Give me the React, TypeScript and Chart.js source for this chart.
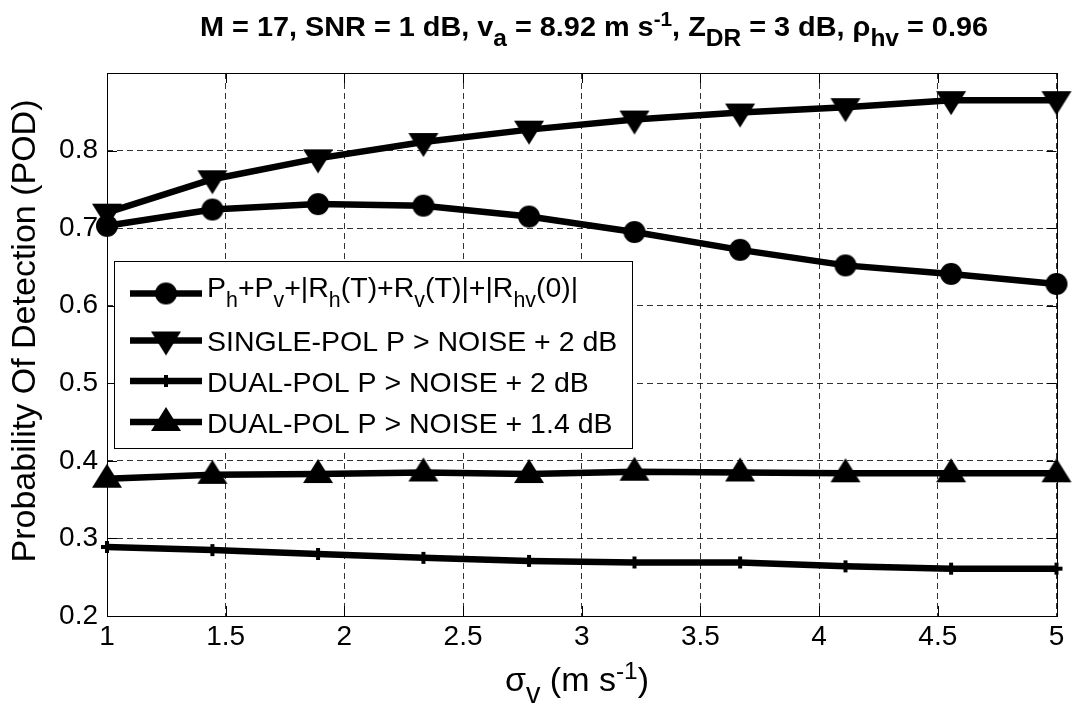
import React, { useEffect, useRef } from 'react';
import { Chart, registerables } from 'chart.js';

Chart.register(...registerables);

// ---------- data ----------
const sigmaV = [1, 1.444, 1.889, 2.333, 2.778, 3.222, 3.667, 4.111, 4.556, 5];
const podCombined = [0.703, 0.724, 0.731, 0.729, 0.715, 0.695, 0.672, 0.652, 0.641, 0.628];
const podSinglePol2dB = [0.72, 0.763, 0.79, 0.811, 0.827, 0.84, 0.849, 0.856, 0.865, 0.865];
const podDualPol2dB = [0.289, 0.285, 0.28, 0.275, 0.271, 0.269, 0.269, 0.264, 0.261, 0.261];
const podDualPol14dB = [0.377, 0.382, 0.383, 0.385, 0.383, 0.386, 0.385, 0.384, 0.384, 0.384];

const xTicks = [1, 1.5, 2, 2.5, 3, 3.5, 4, 4.5, 5];
const xTickLabels = ['1', '1.5', '2', '2.5', '3', '3.5', '4', '4.5', '5'];
const yTicks = [0.2, 0.3, 0.4, 0.5, 0.6, 0.7, 0.8];
const yTickLabels = ['0.2', '0.3', '0.4', '0.5', '0.6', '0.7', '0.8'];

type Seg = { t: string; k?: 'sub' | 'sup' };

const titleSegs: Seg[] = [
  { t: 'M = 17, SNR = 1 dB, v' }, { t: 'a', k: 'sub' }, { t: ' = 8.92 m s' }, { t: '-1', k: 'sup' },
  { t: ', Z' }, { t: 'DR', k: 'sub' }, { t: ' = 3 dB, ρ' }, { t: 'hv', k: 'sub' }, { t: ' = 0.96' },
];
const xLabelSegs: Seg[] = [{ t: 'σ' }, { t: 'v', k: 'sub' }, { t: ' (m s' }, { t: '-1', k: 'sup' }, { t: ')' }];
const yLabel = 'Probability Of Detection (POD)';

const label1: Seg[] = [
  { t: 'P' }, { t: 'h', k: 'sub' }, { t: '+P' }, { t: 'v', k: 'sub' }, { t: '+|R' }, { t: 'h', k: 'sub' },
  { t: '(T)+R' }, { t: 'v', k: 'sub' }, { t: '(T)|+|R' }, { t: 'hv', k: 'sub' }, { t: '(0)|' },
];
const label2: Seg[] = [{ t: 'SINGLE-POL P > NOISE + 2 dB' }];
const label3: Seg[] = [{ t: 'DUAL-POL P > NOISE + 2 dB' }];
const label4: Seg[] = [{ t: 'DUAL-POL P > NOISE + 1.4 dB' }];

const FONT = '"Liberation Sans", Arial, Helvetica, sans-serif';

function segFont(size: number, bold: boolean, k?: string, subScale = 0.85) {
  const s = k === 'sub' ? size * subScale : k === 'sup' ? size * 0.72 : size;
  return `${bold ? 'bold ' : ''}${s}px ${FONT}`;
}
function richWidth(ctx: CanvasRenderingContext2D, segs: Seg[], size: number, bold: boolean, subScale = 0.85) {
  let w = 0;
  for (const s of segs) {
    ctx.font = segFont(size, bold, s.k, subScale);
    w += ctx.measureText(s.t).width;
  }
  return w;
}
function drawRich(ctx: CanvasRenderingContext2D, segs: Seg[], x: number, y: number, size: number, bold: boolean, subScale = 0.85) {
  let cx = x;
  ctx.textAlign = 'left';
  ctx.textBaseline = 'alphabetic';
  for (const s of segs) {
    ctx.font = segFont(size, bold, s.k, subScale);
    const dy = s.k === 'sub' ? size * 0.35 : s.k === 'sup' ? -size * 0.36 : 0;
    ctx.fillText(s.t, cx, y + dy);
    cx += ctx.measureText(s.t).width;
  }
}

function makeMarker(kind: string): HTMLCanvasElement {
  const c = document.createElement('canvas');
  const g = c.getContext('2d')!;
  g.fillStyle = '#000';
  g.strokeStyle = '#000';
  if (kind === 'circle') {
    c.width = 24; c.height = 24;
    g.fillStyle = '#000';
    g.beginPath(); g.arc(12, 12, 11, 0, Math.PI * 2); g.fill();
  } else if (kind === 'down') {
    c.width = 32; c.height = 32;
    g.fillStyle = '#000';
    g.beginPath(); g.moveTo(1, 7); g.lineTo(31, 7); g.lineTo(16, 31); g.closePath(); g.fill();
  } else if (kind === 'up') {
    c.width = 32; c.height = 32;
    g.fillStyle = '#000';
    g.beginPath(); g.moveTo(16, 1); g.lineTo(31, 25); g.lineTo(1, 25); g.closePath(); g.fill();
  } else {
    c.width = 16; c.height = 16;
    g.strokeStyle = '#000';
    g.lineWidth = 4;
    g.beginPath(); g.moveTo(2, 8); g.lineTo(14, 8); g.moveTo(8, 2); g.lineTo(8, 14); g.stroke();
  }
  return c;
}

export default function App() {
  const ref = useRef<HTMLCanvasElement | null>(null);

  useEffect(() => {
    const canvas = ref.current;
    if (!canvas) return;
    const markers = [makeMarker('circle'), makeMarker('down'), makeMarker('plus'), makeMarker('up')];
    const seriesVals = [podCombined, podSinglePol2dB, podDualPol2dB, podDualPol14dB];
    const labels = [label1, label2, label3, label4];

    const datasets = seriesVals.map((vals, i) => ({
      label: labels[i].map((s) => s.t).join(''),
      data: sigmaV.map((x, j) => ({ x, y: vals[j] })),
      borderColor: '#000',
      backgroundColor: '#000',
      borderWidth: 6.5,
      pointStyle: markers[i] as any,
      pointRadius: 10,
      pointHoverRadius: 10,
      tension: 0,
      clip: false as any,
    }));

    const decor = {
      id: 'decor',
      afterDraw(chart: any) {
        const ctx: CanvasRenderingContext2D = chart.ctx;
        const { left, right, top, bottom } = chart.chartArea;
        const xs = chart.scales.x;
        const ys = chart.scales.y;
        ctx.save();
        // box
        ctx.strokeStyle = '#000';
        ctx.lineWidth = 1;
        ctx.strokeRect(Math.round(left) + 0.5, Math.round(top) + 0.5, Math.round(right - left), Math.round(bottom - top));
        // inner ticks
        ctx.beginPath();
        const tl = 10;
        for (const v of xTicks) {
          const px = Math.round(xs.getPixelForValue(v)) + 0.5;
          ctx.moveTo(px, bottom); ctx.lineTo(px, bottom - tl);
          ctx.moveTo(px, top); ctx.lineTo(px, top + tl);
        }
        for (const v of yTicks) {
          const py = Math.round(ys.getPixelForValue(v)) + 0.5;
          ctx.moveTo(left, py); ctx.lineTo(left + tl, py);
          ctx.moveTo(right, py); ctx.lineTo(right - tl, py);
        }
        ctx.stroke();

        ctx.fillStyle = '#000';
        // title
        const tw = richWidth(ctx, titleSegs, 28, true);
        const target = 788;
        ctx.save();
        ctx.translate(594 - target / 2, 36);
        ctx.scale(target / tw, 1);
        drawRich(ctx, titleSegs, 0, 0, 28, true);
        ctx.restore();

        // x label
        const xw = richWidth(ctx, xLabelSegs, 34, false);
        drawRich(ctx, xLabelSegs, 577 - xw / 2, 691, 34, false);

        // y label
        ctx.save();
        ctx.translate(35, 331);
        ctx.rotate(-Math.PI / 2);
        ctx.font = `34px ${FONT}`;
        ctx.textAlign = 'center';
        ctx.textBaseline = 'alphabetic';
        ctx.fillText(yLabel, 0, 0);
        ctx.restore();

        // legend
        ctx.fillStyle = '#fff';
        ctx.fillRect(114, 261, 518, 187);
        ctx.strokeStyle = '#000';
        ctx.lineWidth = 1;
        ctx.strokeRect(114.5, 261.5, 518, 187);
        const rows = [[293.5, 297], [340.5, 351], [381, 392], [422, 433]];
        chart.data.datasets.forEach((ds: any, i: number) => {
          const [ly, by] = rows[i];
          ctx.strokeStyle = '#000';
          ctx.lineWidth = 6.5;
          ctx.beginPath(); ctx.moveTo(130, ly); ctx.lineTo(202, ly); ctx.stroke();
          const m = ds.pointStyle as HTMLCanvasElement;
          ctx.drawImage(m, 166 - m.width / 2, ly - m.height / 2);
          ctx.fillStyle = '#000';
          drawRich(ctx, labels[i], 207, by, 28.5, false, 0.75);
        });
        ctx.restore();
      },
    };

    const chart = new Chart(canvas, {
      type: 'line',
      data: { datasets: datasets as any },
      options: {
        responsive: false,
        animation: false,
        devicePixelRatio: 1,
        events: [],
        layout: { padding: { left: 0, right: 15, top: 73, bottom: 0 } },
        plugins: { legend: { display: false }, title: { display: false }, tooltip: { enabled: false } },
        scales: {
          x: {
            type: 'linear',
            min: 1,
            max: 5,
            afterBuildTicks: (s: any) => { s.ticks = xTicks.map((v) => ({ value: v })); },
            afterFit: (s: any) => { s.height = 92; },
            ticks: {
              color: '#000',
              padding: 4,
              maxRotation: 0,
              autoSkip: false,
              font: { family: FONT, size: 28 },
              callback: (_v: any, i: number) => xTickLabels[i],
            },
            grid: { color: 'rgba(0,0,0,0.8)', lineWidth: 1, drawTicks: false },
            border: { display: false, dash: [6, 4] },
          },
          y: {
            type: 'linear',
            min: 0.2,
            max: 0.9,
            afterBuildTicks: (s: any) => { s.ticks = yTicks.map((v) => ({ value: v })); },
            afterFit: (s: any) => { s.width = 107; },
            ticks: {
              color: '#000',
              padding: 9,
              autoSkip: false,
              font: { family: FONT, size: 28 },
              callback: (_v: any, i: number) => yTickLabels[i],
            },
            grid: { color: 'rgba(0,0,0,0.8)', lineWidth: 1, drawTicks: false },
            border: { display: false, dash: [6, 4] },
          },
        },
      } as any,
      plugins: [decor],
    });
    return () => chart.destroy();
  }, []);

  return (
    <div style={{ position: 'absolute', left: 0, top: 0, width: 1073, height: 708, background: '#fff' }}>
      <canvas ref={ref} width={1073} height={708} style={{ display: 'block', width: 1073, height: 708 }} />
    </div>
  );
}
